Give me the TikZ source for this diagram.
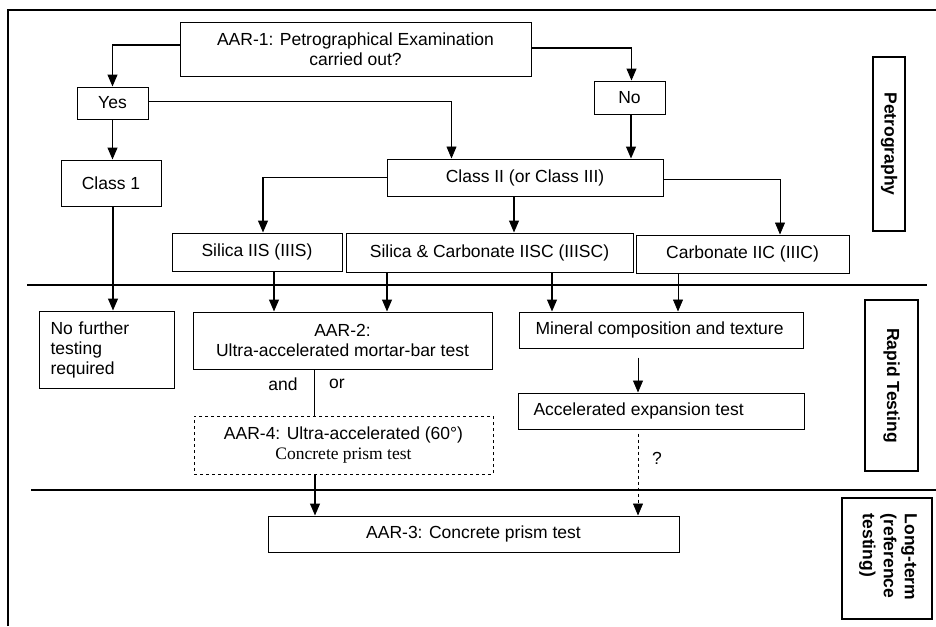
\documentclass[tikz,border=0pt]{standalone}
\usepackage{fontspec}
\setmainfont{Liberation Sans}
\newfontfamily\prismfont{Liberation Serif}
\usetikzlibrary{arrows.meta, calc}

\tikzset{
  box/.style={draw, line width=1pt, inner sep=0pt, align=center,
              font=\fontsize{17.5}{20}\selectfont},
  lbl/.style={draw, line width=1.5pt, inner sep=0pt, align=center,
              font=\fontsize{17.5}{20}\selectfont\bfseries},
  arr/.style={line width=1.1pt, -{Triangle[length=12pt,width=10pt]}},
  thinarr/.style={line width=0.7pt, -{Triangle[length=12pt,width=10pt]}},
  sepline/.style={line width=1.1pt}
}

\begin{document}
\begin{tikzpicture}[x=1pt, y=-1pt]
  \useasboundingbox (0,0) rectangle (936,626);

  % frame and band separators
  \draw[line width=1.1pt] (8,626) -- (8,10) -- (936,10);
  \draw[sepline] (27,285) -- (927,285);
  \draw[sepline] (31,490) -- (936,490);

  % petrography band
  \node[box, minimum width=351pt, minimum height=53pt] (aar1) at (355.5,49.5)
    {AAR-1: Petrographical Examination\\carried out?};
  \node[box, minimum width=71pt, minimum height=32pt] (yes) at (112.5,103) {Yes};
  \node[box, minimum width=71pt, minimum height=33pt] (no) at (629.5,97.5) {No};
  \node[box, minimum width=100pt, minimum height=46pt] (class1) at (111,183) {Class 1};
  \node[box, minimum width=276pt, minimum height=37pt] (class2) at (525,177.5) {Class II (or Class III)};
  \node[box, minimum width=170pt, minimum height=38pt] (silica) at (257,252) {Silica IIS (IIIS)};
  \node[box, minimum width=287pt, minimum height=39pt] (silcarb) at (489.5,252.5) {Silica \& Carbonate IISC (IIISC)};
  \node[box, minimum width=213pt, minimum height=38pt] (carb) at (742.5,254) {Carbonate IIC (IIIC)};

  % rapid testing band
  \node[box, minimum width=135pt, minimum height=77pt, align=left, text width=112pt] (nofurther) at (106.5,349.5)
    {No further\\testing\\required};
  \node[box, minimum width=299pt, minimum height=57pt] (aar2) at (342.5,340.5)
    {AAR-2:\\Ultra-accelerated mortar-bar test};
  \node[box, minimum width=284pt, minimum height=36pt] (mineral) at (661,330) {};
  \node[font=\fontsize{17.5}{20}\selectfont, anchor=west] (mineraltxt) at (532,330) {Mineral composition and texture};
  \node[box, minimum width=286pt, minimum height=36pt] (accel) at (661,411) {};
  \node[font=\fontsize{17.5}{20}\selectfont, anchor=west] (acceltxt) at (530,411) {Accelerated expansion test};
  \node[box, dashed, minimum width=299pt, minimum height=58pt] (aar4) at (343.5,445)
    {AAR-4: Ultra-accelerated (60°)\\{\prismfont Concrete prism test}};

  % long-term band
  \node[box, minimum width=411pt, minimum height=36pt] (aar3) at (473.5,534) {AAR-3: Concrete prism test};

  % band labels
  \node[lbl, rotate=-90, minimum width=174pt, minimum height=32pt] (petro) at (889,144) {Petrography};
  \node[lbl, rotate=-90, minimum width=171pt, minimum height=53pt] (rapid) at (891.5,385.5) {Rapid Testing};
  \node[lbl, rotate=-90, minimum width=121pt, minimum height=90pt] (longterm) at (887,558.5) {};
  \node[rotate=-90, align=left, inner sep=0pt, font=\fontsize{17.5}{21}\selectfont\bfseries] (longtxt) at (888,557)
    {Long-term\\(reference\\testing)};

  % connectors
  \draw[arr] ([yshift=4.5pt]aar1.west) -| (yes.north);
  \draw[arr] ([yshift=1.5pt]aar1.east) -| ([xshift=2pt]no.north);
  \draw[thinarr] ([yshift=2pt]yes.east) -| ([xshift=65pt]class2.north west);
  \draw[arr] (yes.south) -- (yes.south |- class1.north);
  \draw[arr] ([xshift=1.5pt]no.south) -- ([xshift=1.5pt]no.south |- class2.north);
  \draw[arr] (class2.west) -| ([xshift=6pt]silica.north);
  \draw[arr] ([xshift=-11pt]class2.south) -- ([xshift=-11pt]class2.south |- silcarb.north);
  \draw[thinarr] ([yshift=-1.5pt]class2.east) -| ([xshift=37.5pt]carb.north);

  \draw[arr] ([xshift=2pt]class1.south) -- ([xshift=2pt]class1.south |- nofurther.north);
  \draw[arr] ([xshift=17pt]silica.south) -- ([xshift=17pt]silica.south |- aar2.north);
  \draw[arr] ([xshift=-102.5pt]silcarb.south) -- ([xshift=-102.5pt]silcarb.south |- aar2.north);
  \draw[arr] ([xshift=62.5pt]silcarb.south) -- ([xshift=62.5pt]silcarb.south |- mineral.north);
  \draw[thinarr] ([xshift=-64.5pt]carb.south) -- ([xshift=-64.5pt]carb.south |- mineral.north);
  \draw[arr, line width=0.9pt] ([xshift=-23pt,yshift=-9pt]mineral.south) -- ([xshift=-23pt]mineral.south |- accel.north);
  \draw[thinarr, dashed] ([xshift=-23pt,yshift=-4pt]accel.south) -- ([xshift=-23pt]accel.south |- aar3.north);
  \draw[line width=0.9pt] ([xshift=-28.5pt]aar2.south) -- ([xshift=-28.5pt]aar2.south |- aar4.north);
  \draw[arr] ([xshift=-28.5pt]aar4.south) -- ([xshift=-28.5pt]aar4.south |- aar3.north);

  % connector labels
  \node[font=\fontsize{17.5}{20}\selectfont] (andlbl) at (283,384) {and};
  \node[font=\fontsize{17.5}{20}\selectfont] (orlbl) at (337,384) {or};
  \node[font=\fontsize{17.5}{20}\selectfont] (qlbl) at (657,458) {?};
\end{tikzpicture}
\end{document}
